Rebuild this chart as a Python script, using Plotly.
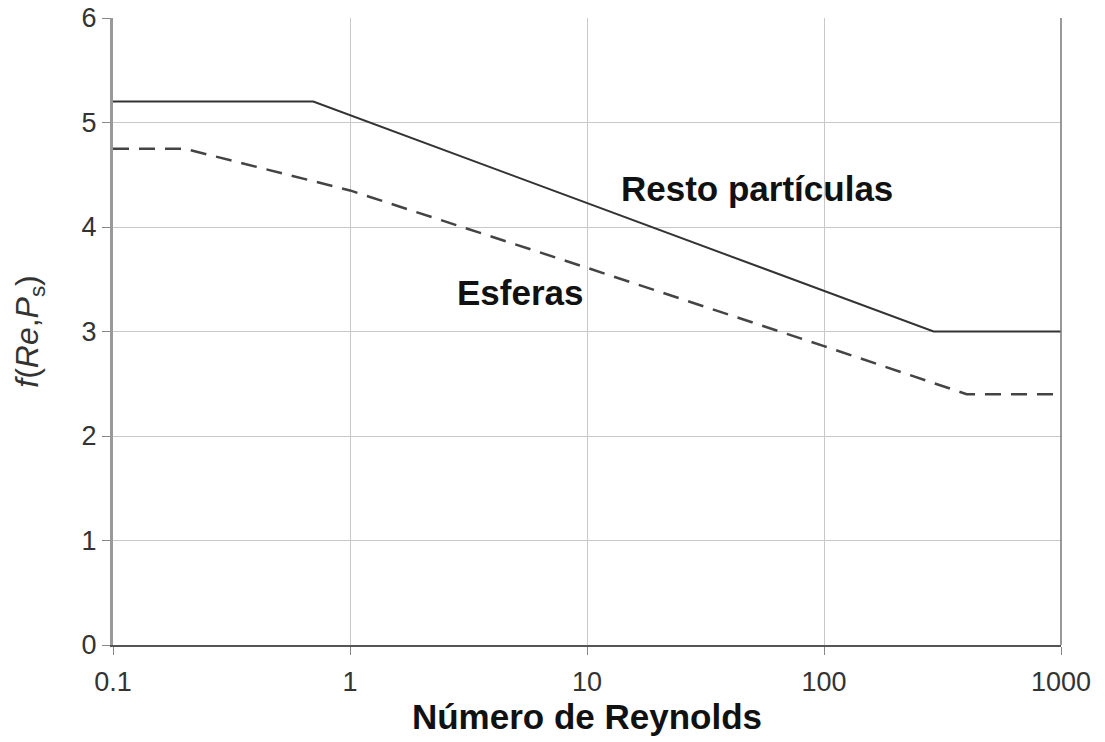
import math
import plotly.graph_objects as go

# Data
re_resto = [0.1, 0.7, 290, 1000]
f_resto = [5.2, 5.2, 3.0, 3.0]

re_esferas = [0.1, 0.2, 1, 10, 100, 400, 1000]
f_esferas = [4.75, 4.75, 4.35, 3.61, 2.86, 2.4, 2.4]

x_ticks = [0.1, 1, 10, 100, 1000]
x_ticklabels = ["0.1", "1", "10", "100", "1000"]
y_ticks = [0, 1, 2, 3, 4, 5, 6]

labels = ["Resto partículas", "Esferas"]
label_re = [52, 5.2]
label_f = [4.37, 3.37]

fig = go.Figure()
fig.add_trace(go.Scatter(x=re_resto, y=f_resto, mode="lines",
                         line=dict(color="#333333", width=2), showlegend=False))
fig.add_trace(go.Scatter(x=re_esferas, y=f_esferas, mode="lines",
                         line=dict(color="#444444", width=2.5, dash="16px,10px"), showlegend=False))

for t, xv, yv in zip(labels, label_re, label_f):
    fig.add_annotation(x=math.log10(xv), y=yv, xref="x", yref="y", text=f"<b>{t}</b>", showarrow=False,
                       font=dict(family="Liberation Sans, Arial", size=35, color="#111111"))

fig.update_layout(
    width=1105, height=742,
    margin=dict(l=113, r=44, t=18, b=97, autoexpand=False),
    plot_bgcolor="white", paper_bgcolor="white",
    font=dict(family="Liberation Sans, Arial", size=27, color="#333333"),
)
fig.update_xaxes(type="log", range=[-1, 3], tickvals=x_ticks, ticktext=x_ticklabels,
                 showgrid=True, gridcolor="#c8c8c8", gridwidth=1,
                 showline=True, linecolor="#555555", linewidth=2, mirror=False,
                 ticks="outside", ticklen=8, tickcolor="#888888",
                 tickfont=dict(size=27, color="#333333"), ticklabelstandoff=4,
                 title=dict(text="<b>Número de Reynolds</b>", font=dict(size=35, color="#111111"), standoff=8),
                 zeroline=False)
fig.update_yaxes(range=[0, 6], tickvals=y_ticks,
                 showgrid=True, gridcolor="#c8c8c8", gridwidth=1,
                 showline=True, linecolor="#999999", linewidth=3,
                 ticks="outside", ticklen=8, tickcolor="#888888",
                 tickfont=dict(size=27, color="#333333"),
                 title=dict(text="<i>f</i>(<i>Re</i>,<i>P</i><sub>s</sub>)", font=dict(size=32, color="#333333"), standoff=34),
                 zeroline=False)

# right border line
fig.add_shape(type="line", xref="paper", yref="paper", x0=1, x1=1, y0=0, y1=1,
              line=dict(color="#777777", width=1.5))

fig.write_html("out.html", config={"displayModeBar": False},
               post_script="document.body.style.margin='0px';document.body.style.padding='0px';")
